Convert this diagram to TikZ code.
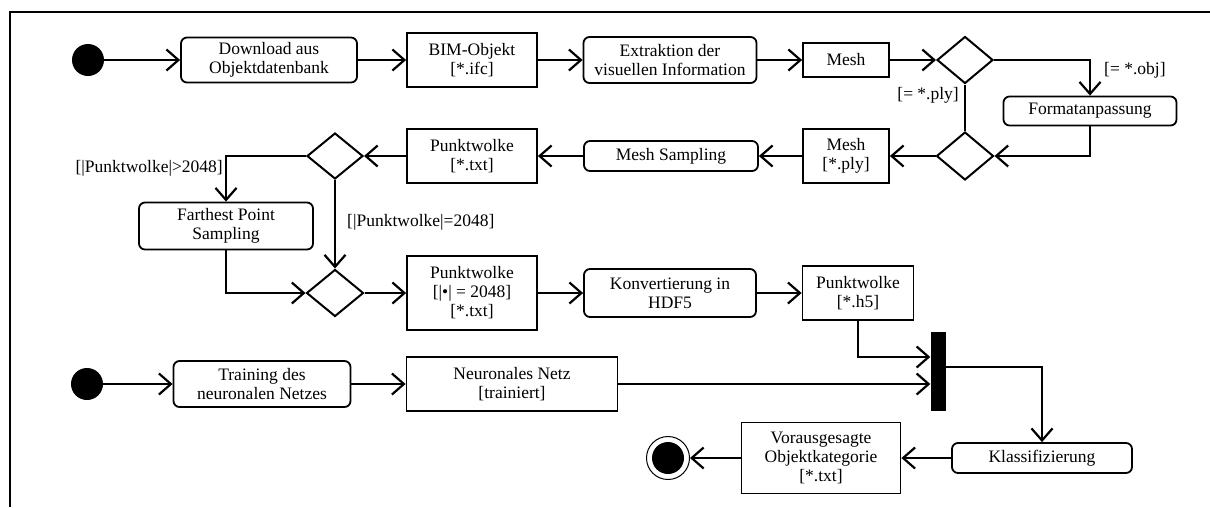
\documentclass[tikz,border=0pt]{standalone}
\usepackage{fontspec}
\setmainfont{Liberation Serif}
\usetikzlibrary{shapes.geometric,arrows.meta,calc}
\begin{document}
\begin{tikzpicture}[x=1pt,y=-1pt,
  every node/.style={font=\fontsize{17.5}{19}\selectfont},
  act/.style={draw, line width=1.8pt, rounded corners=6pt, align=center, inner sep=0pt},
  obj/.style={draw, line width=1.8pt, align=center, inner sep=0pt},
  dec/.style={draw, diamond, line width=2pt, inner sep=0pt},
  startnode/.style={circle, fill=black, minimum size=32pt, inner sep=0pt},
  arr/.style={line width=2.2pt, -{Straight Barb[length=12pt,width=21pt,line width=2.2pt]}},
  ln/.style={line width=2.2pt},
  guard/.style={inner sep=0pt}
]
\useasboundingbox (0,0) rectangle (1210,507);
\draw[line width=2.5pt] (10,507) -- (10,12) -- (1210,12);

% row 1
\node[startnode] (s1) at (88,60) {};
\node[act, minimum width=176pt, minimum height=45pt] (dl) at (269,60) {Download aus\\Objektdatenbank};
\node[obj, minimum width=130pt, minimum height=54pt] (bim) at (472,60) {BIM-Objekt\\{[*.ifc]}};
\node[act, minimum width=173pt, minimum height=46pt] (ext) at (670,60) {Extraktion der\\visuellen Information};
\node[obj, minimum width=86pt, minimum height=34pt] (m1) at (846,60) {Mesh};
\node[dec, minimum width=56pt, minimum height=47pt] (d1) at (965,60) {};
\node[act, minimum width=173pt, minimum height=29pt] (fmt) at (1090,111) {Formatanpassung};
\node[dec, minimum width=57pt, minimum height=48pt] (d2) at (965,156) {};
\node[obj, minimum width=86pt, minimum height=54pt] (m2) at (846,156) {Mesh\\{[*.ply]}};

% row 2
\node[act, minimum width=174pt, minimum height=30pt] (ms) at (671,156) {Mesh Sampling};
\node[obj, minimum width=130pt, minimum height=54pt] (pw1) at (472,156) {Punktwolke\\{[*.txt]}};
\node[dec, minimum width=56pt, minimum height=46pt] (d3) at (335,156) {};
\node[act, minimum width=174pt, minimum height=47pt] (fps) at (226,226) {Farthest Point\\Sampling};
\node[dec, minimum width=57pt, minimum height=47pt] (d4) at (335,293) {};
\node[obj, minimum width=130pt, minimum height=74pt] (pw2) at (472,293) {Punktwolke\\{[|•| = 2048]}\\{[*.txt]}};
\node[act, minimum width=172pt, minimum height=48pt] (hdf) at (670,293) {Konvertierung in\\HDF5};
\node[obj, minimum width=111pt, minimum height=54pt] (h5) at (858,293) {Punktwolke\\{[*.h5]}};
\node[fill=black, minimum width=15pt, minimum height=79pt, inner sep=0pt] (bar) at (938,371) {};

% row 3
\node[startnode] (s2) at (87,384) {};
\node[act, minimum width=177pt, minimum height=46pt] (tr) at (262,384) {Training des\\neuronalen Netzes};
\node[obj, minimum width=211pt, minimum height=54pt] (nn) at (512,384) {Neuronales Netz\\{[trainiert]}};
\node[act, minimum width=180pt, minimum height=30pt] (kl) at (1042,458) {Klassifizierung};
\node[obj, minimum width=159pt, minimum height=71pt] (vor) at (821,458) {Vorausgesagte\\Objektkategorie\\{[*.txt]}};
\node[circle, draw, line width=1pt, minimum size=43pt, inner sep=0pt] (end) at (668,458) {};
\fill (end.center) circle (16pt);

% guards
\node[guard, anchor=west] (lobj) at (1104,70) {[= *.obj]};
\node[guard, anchor=east] (lply) at (959,95) {[= *.ply]};
\node[guard, anchor=east] (lgt) at (223,168) {[|Punktwolke|>2048]};
\node[guard, anchor=west] (leq) at (347,222) {[|Punktwolke|=2048]};

% connectors
\draw[arr] (s1) -- (dl);
\draw[arr] (dl) -- (bim);
\draw[arr] (bim) -- (ext);
\draw[arr] (ext) -- (m1);
\draw[arr] (m1) -- (d1);
\draw[arr] (d1.east) -| (fmt.north);
\draw[ln] (d1.south) -- (d2.north);
\draw[arr] (fmt.south) |- (d2.east);
\draw[arr] (d2) -- (m2);
\draw[arr] (m2) -- (ms);
\draw[arr] (ms) -- (pw1);
\draw[arr] (pw1) -- (d3);
\draw[arr] (d3.west) -| (fps.north);
\draw[arr] (d3.south) -- (d4.north);
\draw[arr] (fps.south) |- (d4.west);
\draw[arr] (d4) -- (pw2);
\draw[arr] (pw2) -- (hdf);
\draw[arr] (hdf) -- (h5);
\draw[arr] (h5.south) |- ($(bar.west)+(0,-14)$);
\draw[arr] (s2) -- (tr);
\draw[arr] (tr) -- (nn);
\draw[arr] (nn.east) -- (nn.east -| bar.west);
\draw[arr] ($(bar.east)+(0,-4)$) -| (kl.north);
\draw[arr] (kl) -- (vor);
\draw[arr] (vor) -- (end);
\end{tikzpicture}
\end{document}
